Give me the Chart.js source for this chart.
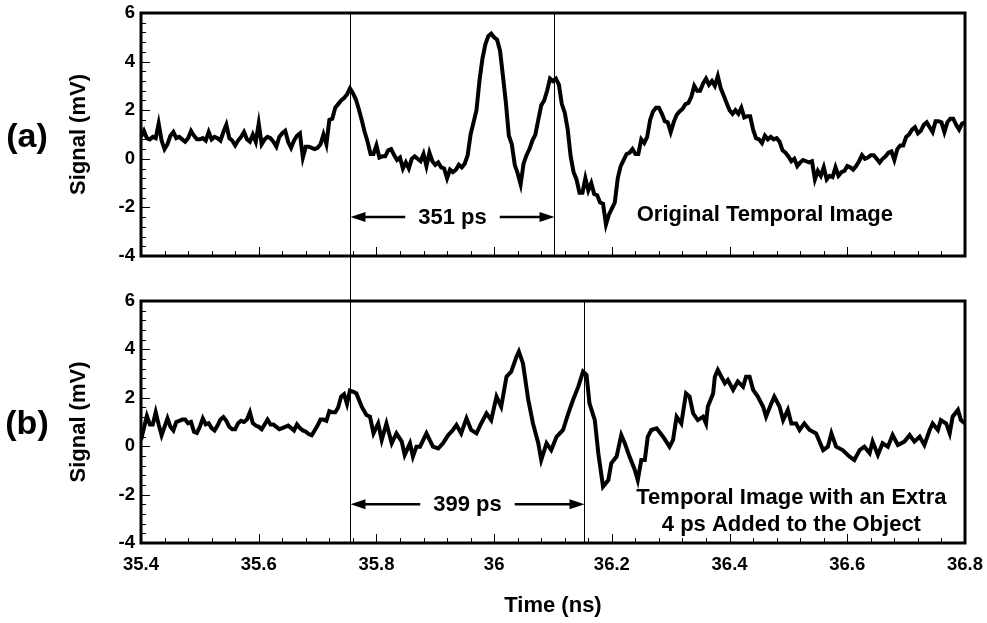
<!DOCTYPE html>
<html lang="en">
<head>
<meta charset="UTF-8">
<title>Temporal Image Signal</title>
<script src="https://cdn.jsdelivr.net/npm/chart.js"></script>
<style>
  body { margin: 0; background: #fff; }
  .wrap { position: relative; width: 987px; height: 623px; }
  .wrap canvas { position: absolute; left: 0; }
  #chartA { top: 0; }
  #chartB { top: 280px; }
</style>
</head>
<body>
<div class="wrap">
  <canvas id="chartA" width="987" height="290"></canvas>
  <canvas id="chartB" width="987" height="343"></canvas>
</div>
<script>
// sampling grid (ns)
const timeStart = 35.40;
const stepA = 0.005;

// (a) original temporal image, mV, every 5 ps from 35.40 ns
const signalA = [
  0.9, 1.15, 0.85, 0.8, 0.9, 0.85, 1.45, 0.75, 0.4, 0.6,
  0.95, 1.1, 0.85, 0.9, 0.8, 0.7, 0.85, 1.15, 0.95, 0.8,
  0.8, 0.85, 0.75, 1.1, 0.8, 0.9, 0.85, 0.75, 1.1, 1.4,
  0.85, 0.75, 0.55, 0.75, 0.9, 1.1, 0.8, 0.7, 1.0, 0.7,
  1.45, 0.6, 0.8, 0.9, 0.85, 0.7, 0.5, 0.9, 1.05, 1.15,
  0.7, 0.45, 0.75, 0.95, 1.05, 0.05, 0.5, 0.5, 0.45, 0.4,
  0.45, 0.6, 1.0, 0.6, 1.6, 1.65, 2.1, 2.25, 2.4, 2.5,
  2.65, 2.9,
  2.7, 2.45, 2.05, 1.6, 1.1, 0.7, 0.2, 0.2, 0.55, 0.05,
  0.1, 0.1, 0.35, 0.4, 0.15, -0.05, 0.05, -0.4, -0.15, -0.4,
  0.0, 0.1, 0.0, -0.1, 0.2, -0.3, 0.25, -0.1, -0.25, -0.15,
  -0.35, -0.4, -0.8, -0.45, -0.55, -0.45, -0.25, -0.35, -0.2, 0.15,
  1.0, 1.5, 2.0, 3.2, 4.1, 4.7, 5.05, 5.15, 5.0, 4.9,
  4.45, 3.4, 2.3, 0.95, 0.6, -0.25, -0.6, -1.05, -0.2, 0.15,
  0.4, 0.75, 1.0, 1.6, 2.2, 2.4, 2.8, 3.3, 3.2,
  3.3, 3.05, 2.25, 1.9, 1.2, 0.1, -0.55, -0.85, -1.4, -1.4,
  -0.8, -1.3, -1.0, -1.45, -1.5, -1.8, -1.85, -2.7, -2.3, -2.05,
  -1.8, -0.8, -0.3, -0.05, 0.2, 0.25, 0.4, 0.2, 0.2, 0.8,
  0.65, 0.9, 1.6, 1.95, 2.1, 2.1, 1.85, 1.55, 1.5, 1.1,
  1.5, 1.8, 1.95, 2.05, 2.25, 2.3, 2.55, 3.0, 2.8, 2.8,
  3.1, 3.3, 3.05, 3.2, 3.0, 3.4, 2.9, 2.6, 2.3, 2.0,
  1.85, 2.0, 1.85, 2.1, 1.7, 1.75, 1.75, 1.2, 0.85, 0.8,
  0.65,
  0.95, 0.8, 0.9, 0.8, 0.85, 0.7, 0.35, 0.25, 0.1, -0.1,
  0.0, -0.3, -0.15, -0.05, -0.1, -0.15, -0.1, -0.85, -0.5, -0.7,
  -0.35, -0.85, -0.7, -0.75, -0.35, -0.7, -0.55, -0.5, -0.3, -0.35,
  -0.45, -0.3, -0.1, 0.15, 0.0, 0.05, 0.15, 0.15, 0.0, -0.15,
  0.0, 0.1, 0.25, 0.3, -0.05, 0.4, 0.55, 0.55, 0.9, 1.0,
  1.2, 1.3, 1.05, 1.15, 1.4, 1.5, 1.3, 1.1, 1.55, 1.55,
  1.5, 1.1, 1.5, 1.65, 1.65, 1.4, 1.2, 1.45, 1.5
];

// (b) with an extra 4 ps added to the object, mV
// early part every 5 ps from 35.40 ns
const bEarlyStart = 35.40;
const bEarlyStep = 0.005;
const signalBEarly = [
  0.25, 0.75, 1.25, 0.9, 0.9, 1.4, 0.9, 0.45, 0.8, 1.15,
  0.8, 0.65, 1.0, 1.05, 1.1, 1.1, 0.95, 1.0, 0.6, 0.55,
  0.8, 1.15, 0.9, 0.95, 0.75, 0.65, 0.85, 1.1, 1.2, 1.05,
  0.8, 0.7, 0.7, 0.95, 1.05, 1.0, 1.1, 1.4, 0.95, 0.85,
  0.8, 0.7, 0.9, 1.1, 0.9, 0.9, 0.8, 0.7, 0.75, 0.8,
  0.85, 0.75, 0.65, 0.9, 0.75, 0.65, 0.6, 0.5, 0.45, 0.65,
  0.85, 1.1, 1.1, 1.05, 1.45, 1.4, 1.4, 1.6, 2.05, 2.15,
  1.75, 2.3
];
// later part, read at the times where the trace turns (ns)
const timesBLate = [
  35.761, 35.766, 35.775, 35.783, 35.789, 35.795, 35.803, 35.809, 35.817, 35.826,
  35.834, 35.843, 35.848, 35.857, 35.862, 35.868, 35.874, 35.885, 35.896, 35.905,
  35.913, 35.922, 35.930, 35.936, 35.944, 35.953, 35.961, 35.970, 35.978, 35.987,
  35.995, 36.004, 36.012, 36.021, 36.029, 36.038, 36.042, 36.049, 36.058, 36.066,
  36.075, 36.080, 36.089, 36.097, 36.106, 36.117, 36.126, 36.134, 36.143, 36.151,
  36.157, 36.162, 36.171, 36.177, 36.185, 36.194, 36.199, 36.208, 36.216, 36.222,
  36.230, 36.239, 36.244, 36.250, 36.256, 36.261, 36.267, 36.276, 36.287,
  36.298, 36.304, 36.310, 36.318, 36.326, 36.332, 36.338, 36.346, 36.355, 36.360,
  36.363, 36.372, 36.375, 36.380, 36.386, 36.392, 36.397, 36.406, 36.414, 36.423,
  36.428, 36.434, 36.440, 36.448, 36.457, 36.462, 36.471, 36.476, 36.485, 36.491,
  36.499, 36.505, 36.513, 36.519, 36.527, 36.536, 36.547, 36.559, 36.567, 36.573,
  36.581, 36.592, 36.604, 36.612, 36.621, 36.629, 36.638, 36.643, 36.652, 36.660,
  36.669, 36.677, 36.686, 36.697, 36.706, 36.714, 36.723, 36.731, 36.740, 36.745,
  36.754, 36.759, 36.768, 36.774, 36.779, 36.788, 36.793, 36.800
];
const signalBLate = [
  2.25, 2.18, 1.63, 1.29, 1.22, 0.53, 0.94, 0.26, 0.94, 0.12,
  0.53, 0.19, -0.36, 0.12, -0.43, -0.02, -0.02, 0.53, -0.02, -0.09,
  0.12, 0.46, 0.67, 0.88, 0.53, 1.15, 0.67, 0.53, 0.94, 1.36,
  1.08, 2.05, 1.63, 2.87, 3.08, 3.70, 3.91, 3.42, 1.91, 0.94,
  0.12, -0.57, 0.12, -0.16, 0.39, 0.67, 1.36, 1.91, 2.46, 3.08,
  2.94, 1.77, 1.08, -0.29, -1.67, -1.40, -0.71, -0.43, 0.46, 0.12,
  -0.43, -0.98, -1.40, -0.57, -0.57, 0.39, 0.67, 0.74, 0.39,
  -0.02, 0.26, 1.22, 0.94, 2.18, 2.05, 1.36, 1.08, 1.22, 0.94,
  1.63, 2.18, 2.87, 3.15, 2.87, 2.60, 2.74, 2.33, 2.67, 2.46,
  2.87, 2.87, 2.33, 2.05, 1.63, 1.22, 1.77, 2.05, 1.63, 1.08,
  1.50, 0.94, 0.94, 0.67, 0.94, 0.67, 0.53, -0.16, -0.02, 0.53,
  -0.02, -0.16, -0.43, -0.57, -0.16, -0.02, -0.29, 0.19, -0.36, 0.12,
  -0.02, 0.46, 0.05, 0.19, 0.46, 0.19, 0.39, 0.05, 0.67, 0.94,
  0.67, 1.08, 0.94, 0.53, 1.22, 1.50, 1.08, 0.94
];

const timeTicks = [35.4, 35.6, 35.8, 36.0, 36.2, 36.4, 36.6, 36.8];
const signalTicks = [-4, -2, 0, 2, 4, 6];

// marker lines (ns) and annotations
const markerStart = 35.7555;
const markerEndA = 36.102;
const markerEndB = 36.152;
const spanLabelA = '351 ps';
const spanLabelB = '399 ps';
const arrowLevel = -2.4;
const captionA = ['Original Temporal Image'];
const captionB = ['Temporal Image with an Extra', '4 ps Added to the Object'];
const captionAPos = [36.46, -2.3];
const captionBPos = [36.505, -2.15];

const FAMILY = '"Liberation Sans", Arial, Helvetica, sans-serif';
const BLACK = '#000';

function toPoints(values, start, step) {
  return values.map((v, i) => ({ x: start + i * step, y: v }));
}

function drawArrow(ctx, from, to, y) {
  const dir = Math.sign(to - from);
  ctx.beginPath();
  ctx.moveTo(from, y);
  ctx.lineTo(to - dir * 12, y);
  ctx.stroke();
  ctx.beginPath();
  ctx.moveTo(to, y);
  ctx.lineTo(to - dir * 15, y - 5);
  ctx.lineTo(to - dir * 15, y + 5);
  ctx.closePath();
  ctx.fill();
}

function makeDecor(cfg) {
  return {
    id: 'decor',
    afterDatasetsDraw(chart) {
      const { ctx, chartArea: a, scales: { x, y } } = chart;
      ctx.save();
      ctx.strokeStyle = BLACK;
      ctx.fillStyle = BLACK;

      // inward tick marks, 5 subdivisions between labelled ticks
      ctx.lineWidth = 1;
      ctx.beginPath();
      for (let i = 0; i < timeTicks.length; i++) {
        const px = Math.round(x.getPixelForValue(timeTicks[i])) + 0.5;
        ctx.moveTo(px, a.bottom); ctx.lineTo(px, a.bottom - 9);
        if (i < timeTicks.length - 1) {
          const d = (timeTicks[i + 1] - timeTicks[i]) / 5;
          for (let k = 1; k < 5; k++) {
            const m = Math.round(x.getPixelForValue(timeTicks[i] + k * d)) + 0.5;
            ctx.moveTo(m, a.bottom); ctx.lineTo(m, a.bottom - 5);
          }
        }
      }
      for (let i = 0; i < signalTicks.length; i++) {
        const py = Math.round(y.getPixelForValue(signalTicks[i])) + 0.5;
        ctx.moveTo(a.left, py); ctx.lineTo(a.left + 9, py);
        if (i < signalTicks.length - 1) {
          const d = (signalTicks[i + 1] - signalTicks[i]) / 5;
          for (let k = 1; k < 5; k++) {
            const m = Math.round(y.getPixelForValue(signalTicks[i] + k * d)) + 0.5;
            ctx.moveTo(a.left, m); ctx.lineTo(a.left + 5, m);
          }
        }
      }
      ctx.stroke();

      // frame
      ctx.lineWidth = 3;
      ctx.strokeRect(a.left, a.top, a.right - a.left, a.bottom - a.top);

      // marker lines
      ctx.lineWidth = 1;
      const x0 = Math.round(x.getPixelForValue(markerStart)) + 0.5;
      const x1 = Math.round(x.getPixelForValue(cfg.markerEnd)) + 0.5;
      ctx.beginPath();
      ctx.moveTo(x0, cfg.top ? a.top : 0);
      ctx.lineTo(x0, cfg.top ? chart.height : a.bottom);
      ctx.moveTo(x1, a.top);
      ctx.lineTo(x1, a.bottom);
      ctx.stroke();

      // span arrows with label
      ctx.font = 'bold 22px ' + FAMILY;
      ctx.textAlign = 'center';
      ctx.textBaseline = 'middle';
      const ay = y.getPixelForValue(arrowLevel);
      const mid = (x0 + x1) / 2;
      const half = ctx.measureText(cfg.span).width / 2;
      ctx.fillText(cfg.span, mid, ay + 1);
      ctx.lineWidth = 2.5;
      drawArrow(ctx, mid - half - 13, x0, ay);
      drawArrow(ctx, mid + half + 13, x1, ay);

      // caption
      const cx = x.getPixelForValue(cfg.capPos[0]);
      const cy = y.getPixelForValue(cfg.capPos[1]);
      cfg.caption.forEach((line, i) => ctx.fillText(line, cx, cy + i * 27));

      // panel letter
      ctx.font = 'bold 34px ' + FAMILY;
      ctx.fillText(cfg.letter, 27, (a.top + a.bottom) / 2 + 3);
      ctx.restore();
    }
  };
}

function buildChart(id, points, bottomAxis, decor) {
  const tickFont = { family: FAMILY, size: 18.5, weight: 'bold' };
  const titleFont = { family: FAMILY, size: 22, weight: 'bold' };
  return new Chart(document.getElementById(id), {
    type: 'line',
    data: {
      datasets: [{
        data: points,
        borderColor: BLACK,
        borderWidth: 4,
        pointRadius: 0,
        tension: 0,
        fill: false
      }]
    },
    options: {
      responsive: false,
      animation: false,
      devicePixelRatio: 1,
      layout: {
        padding: bottomAxis
          ? { top: 21, left: 66, right: 22, bottom: 4 }
          : { top: 13, left: 66, right: 22, bottom: 34 }
      },
      plugins: { legend: { display: false }, tooltip: { enabled: false } },
      scales: {
        x: {
          type: 'linear',
          min: 35.4,
          max: 36.8,
          display: bottomAxis,
          grid: { display: false, drawTicks: false },
          border: { display: false },
          afterBuildTicks: s => { s.ticks = timeTicks.map(v => ({ value: v })); },
          afterFit: s => {
            if (bottomAxis) s.height = 76;
            s.paddingLeft = 0; s.paddingRight = 0;
          },
          ticks: {
            color: BLACK, font: tickFont, padding: 11, maxRotation: 0, autoSkip: false,
            callback: v => String(+v.toFixed(1))
          },
          title: { display: true, text: 'Time (ns)', color: BLACK, font: titleFont, padding: 0 }
        },
        y: {
          min: -4,
          max: 6,
          grid: { display: false, drawTicks: false },
          border: { display: false },
          afterBuildTicks: s => { s.ticks = signalTicks.map(v => ({ value: v })); },
          afterFit: s => { s.width = 75; s.paddingTop = 0; s.paddingBottom = 0; },
          ticks: { color: BLACK, font: tickFont, padding: 6, callback: v => String(v) },
          title: { display: true, text: 'Signal (mV)', color: BLACK, font: titleFont, padding: 0 }
        }
      }
    },
    plugins: [decor]
  });
}

const pointsB = toPoints(signalBEarly, bEarlyStart, bEarlyStep)
  .concat(signalBLate.map((v, i) => ({ x: timesBLate[i], y: v })));

buildChart('chartA', toPoints(signalA, timeStart, stepA), false, makeDecor({
  letter: '(a)', markerEnd: markerEndA, span: spanLabelA,
  caption: captionA, capPos: captionAPos, top: true
}));
buildChart('chartB', pointsB, true, makeDecor({
  letter: '(b)', markerEnd: markerEndB, span: spanLabelB,
  caption: captionB, capPos: captionBPos, top: false
}));
</script>
</body>
</html>
